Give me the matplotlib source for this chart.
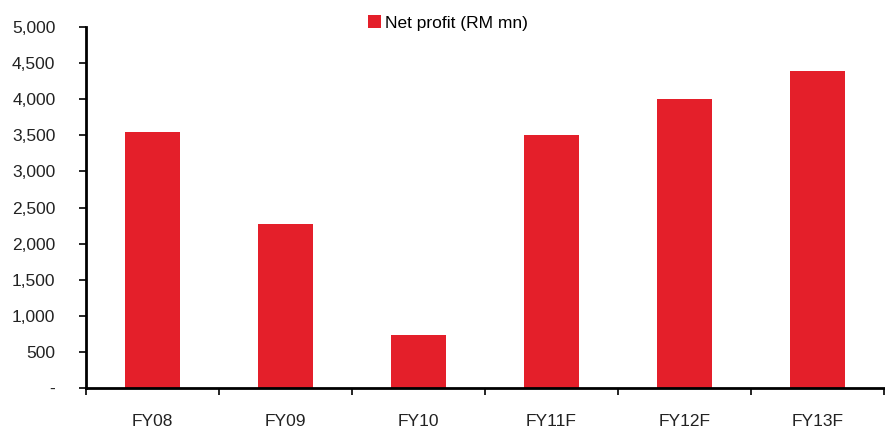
import matplotlib
matplotlib.use("Agg")
import matplotlib.pyplot as plt
import numpy as np

categories = ["FY08", "FY09", "FY10", "FY11F", "FY12F", "FY13F"]
net_profit = [3540, 2270, 735, 3505, 4005, 4385]
yticks = [0, 500, 1000, 1500, 2000, 2500, 3000, 3500, 4000, 4500, 5000]
ytick_labels = ["-", "500", "1,000", "1,500", "2,000", "2,500", "3,000", "3,500", "4,000", "4,500", "5,000"]

plt.rcParams['font.family'] = ['Liberation Sans', 'DejaVu Sans']

W, H = 885, 429
fig = plt.figure(figsize=(W/100, H/100), dpi=100)
ax = fig.add_axes([86/W, (H-388)/H, (884-86)/W, (388-27)/H])

x = np.arange(len(categories))
ax.bar(x, net_profit, width=0.41, color="#E41F2A", label="Net profit (RM mn)", zorder=2)

ax.set_xlim(-0.5, len(categories)-0.5)
ax.set_ylim(0, 5000)
ax.set_yticks(yticks)
ax.set_yticklabels(ytick_labels, fontsize=12.5, color="#222222")
ax.set_xticks(x)
ax.set_xticklabels(categories, fontsize=12.5, color="#222222")
ax.set_xticks(np.arange(len(categories)+1) - 0.5, minor=True)
ax.tick_params(axis='x', which='major', length=0, pad=19)
ax.tick_params(axis='x', which='minor', length=5, width=1.2, direction='out')
ax.tick_params(axis='y', which='major', length=5, width=1.2, direction='out', pad=17)

for s in ['top', 'right']:
    ax.spines[s].set_visible(False)
for s in ['left', 'bottom']:
    ax.spines[s].set_linewidth(2)
    ax.spines[s].set_color("black")

fig.legend(loc='center', bbox_to_anchor=(448/W, 1 - 23/H), frameon=False,
           fontsize=12.5, handlelength=0.75, handleheight=0.75, handletextpad=0.25)

fig.savefig("out.png", dpi=100)
